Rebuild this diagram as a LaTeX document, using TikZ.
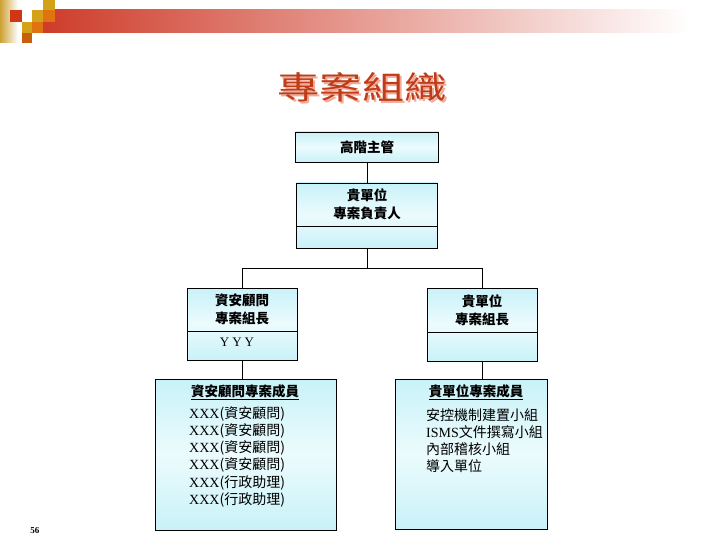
\documentclass[tikz,border=0pt]{standalone}
\usepackage{fontspec}
\usepackage{graphicx}
\setmainfont{Liberation Serif}
\newfontfamily\cjk{Noto Sans CJK TC}
\newfontfamily\lat{Liberation Serif}
\definecolor{boxfill}{RGB}{200,242,248}
\definecolor{boxmid}{RGB}{236,251,253}
\definecolor{titlered}{RGB}{190,60,25}
\definecolor{titleshadow}{RGB}{242,170,150}
\definecolor{barred}{RGB}{206,60,42}
\definecolor{sqred}{RGB}{205,55,20}
\definecolor{sqgold}{RGB}{212,162,25}
\definecolor{sqorange}{RGB}{222,115,15}
\definecolor{sqdark}{RGB}{200,95,10}
\definecolor{stripgold}{RGB}{205,160,50}
\newcommand{\titletxt}{\scalebox{1.32}[1]{\cjk\fontsize{32}{32}\selectfont 專案組織}}
\tikzset{
  orgbox/.style={draw=black, line width=0.8pt, rectangle, inner sep=0pt,
    top color=boxfill, bottom color=boxfill, middle color=boxmid},
  conn/.style={draw=black, line width=0.8pt},
  boxtext/.style={font=\cjk\bfseries\fontsize{13.5}{18}\selectfont, align=center, inner sep=0pt},
  listtext/.style={font=\fontsize{14}{17.3}\selectfont, align=left, anchor=north west, inner sep=0pt},
  headtext/.style={font=\cjk\bfseries\fontsize{13.5}{16}\selectfont, inner sep=0pt}
}
\begin{document}
\begin{tikzpicture}[x=1pt,y=-1pt]
\useasboundingbox (0,0) rectangle (720,540);
\fill[white] (0,0) rectangle (720,540);
% header decoration
\shade[left color=stripgold, right color=white] (0,0) rectangle (18,43);
\shade[left color=barred, right color=white] (43,10) rectangle (690,33);
\fill[sqred] (10,10) rectangle (22,22);
\fill[sqgold] (32,10) rectangle (43,22);
\fill[sqgold] (43,0) rectangle (55,10);
\fill[sqorange] (43,10) rectangle (55,22);
\fill[sqgold] (22,22) rectangle (32,33);
\fill[sqorange] (32,22) rectangle (43,33);
\fill[sqdark] (22,33) rectangle (32,43);
% title with shadow
\node (title) at (362,88) {\rlap{\hspace{2pt}\raisebox{-2pt}{\textcolor{titleshadow}{\titletxt}}}\textcolor{titlered}{\titletxt}};
% boxes
\node[orgbox, minimum width=143pt, minimum height=30pt] (b1) at (367,147) {};
\node[boxtext] (b1t) at (b1.center) {高階主管};
\node[orgbox, minimum width=141pt, minimum height=65pt] (b2) at (367,215.5) {};
\draw[conn] (297,226) -- (438,226);
\node[boxtext] (b2t) at (367,204.5) {貴單位\\專案負責人};
\node[orgbox, minimum width=110pt, minimum height=72pt] (b3) at (242,324) {};
\draw[conn] (187,331) -- (297,331);
\node[boxtext] (b3t) at (242,309.5) {資安顧問\\專案組長};
\node[font=\lat\fontsize{13}{16}\selectfont] (b3y) at (237,342) {Y\hspace{3pt}Y\hspace{3pt}Y};
\node[orgbox, minimum width=110pt, minimum height=73pt] (b4) at (482,324.5) {};
\draw[conn] (427,332) -- (537,332);
\node[boxtext] (b4t) at (482,310) {貴單位\\專案組長};
\node[orgbox, minimum width=181pt, minimum height=151pt] (b5) at (245.5,454.5) {};
\node[headtext] (b5h) at (245,392) {\underline{資安顧問專案成員}};
\node[listtext] (b5l) at (189,406) {XXX{\cjk(資安顧問)}\\XXX{\cjk(資安顧問)}\\XXX{\cjk(資安顧問)}\\XXX{\cjk(資安顧問)}\\XXX{\cjk(行政助理)}\\XXX{\cjk(行政助理)}};
\node[orgbox, minimum width=152pt, minimum height=150pt] (b6) at (471,454) {};
\node[headtext] (b6h) at (476,392) {\underline{貴單位專案成員}};
\node[listtext] (b6l) at (426,408) {{\cjk 安控機制建置小組}\\ISMS{\cjk 文件撰寫小組}\\{\cjk 內部稽核小組}\\{\cjk 導入單位}};
% connectors
\coordinate (j) at (367,268);
\draw[conn] (b1.south) -- (b1.south |- b2.north);
\draw[conn] (b2.south) -- (j);
\draw[conn] (j) -| (b3.north);
\draw[conn] (j) -| (b4.north);
\draw[conn] (b3.south) -- (b3.south |- b5.north);
\draw[conn] (b4.south) -- (b4.south |- b6.north);
% page number
\node[font=\bfseries\fontsize{9}{10}\selectfont] (pn) at (35,531) {56};
\end{tikzpicture}
\end{document}
